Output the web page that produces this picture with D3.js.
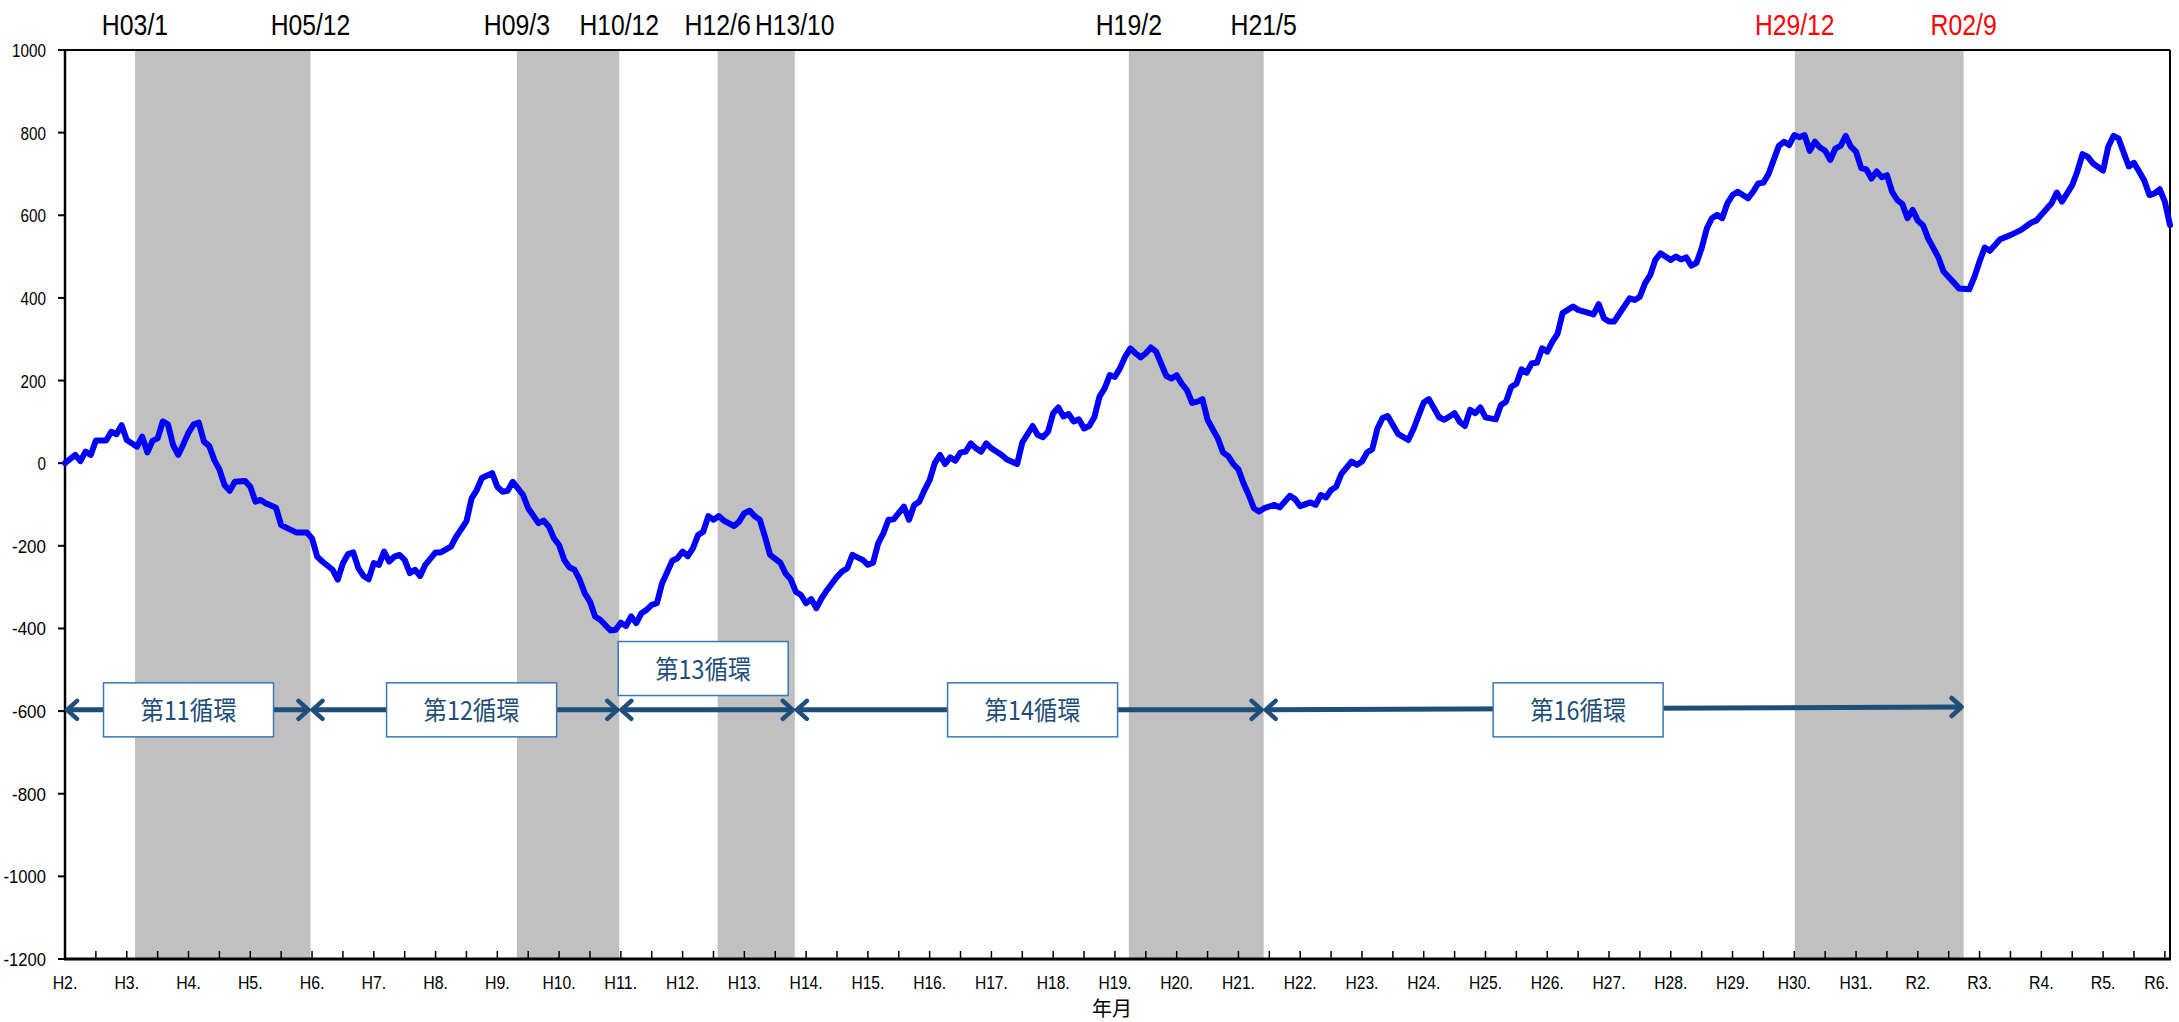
<!DOCTYPE html>
<html>
<head>
<meta charset="utf-8">
<script src="https://cdn.jsdelivr.net/npm/d3@7"></script>
<style>
  body { margin: 0; background: #fff; }
</style>
</head>
<body>
<div id="chart"></div>
<script>
// month index 0 = H2/1 (1990 Jan), one step = one month
const pointMonth = [
  0,2,3,4,5,6,8,9,10,11,12,14,15,16,17,18,19,20,21,22,23,24,25,26,27,28,29,30,31,32,33,35,36,37,38,39,41,42,44,45,47,48,49,50,52,53,54,55,56,57,58,59,
  60,61,62,63,64,65,66,67,68,69,70,72,73,75,76,78,79,80,81,83,84,85,86,87,88,89,90,92,93,94,95,96,97,98,99,100,101,102,103,104,106,107,
  108,109,110,111,112,113,114,115,116,118,119,120,121,122,123,124,125,126,127,128,130,131,132,133,134,135,136,137,139,140,141,142,143,144,145,146,147,148,
  150,151,152,153,155,156,157,158,159,160,161,163,164,165,166,167,168,169,170,171,172,173,174,175,176,177,178,179,180,182,183,185,186,188,189,190,191,192,
  193,194,195,196,197,198,199,200,201,202,203,204,205,206,207,208,209,210,211,212,213,214,215,216,217,218,219,220,221,222,223,224,225,226,227,228,229,230,
  231,232,233,235,236,238,239,240,242,243,244,245,246,247,248,250,251,252,253,254,255,256,257,259,261,262,264,265,267,268,270,271,272,273,274,275,276,278,
  279,280,281,282,283,284,285,286,287,288,289,290,291,292,293,294,296,297,298,299,300,301,303,304,305,306,307,308,309,310,312,313,314,315,316,317,318,
  319,320,321,322,323,324,325,327,328,329,330,331,332,333,334,335,336,337,338,339,340,341,342,343,344,345,346,347,348,349,350,351,352,353,354,355,356,357,
  358,359,360,361,362,364,365,367,368,370,371,372,373,374,376,378,380,382,383,384,386,387,388,390,391,392,393,394,396,397,398,399,400,401,402,403,404,405,
  406,407,408,409
];
const pointValue = [
  0,20,5,28,20,55,55,76,70,92,56,40,64,26,54,60,101,94,44,20,46,74,94,98,52,42,8,-15,-53,-67,-45,-43,-57,-93,-89,-97,-108,-150,-162,-168,-168,-182,-226,-238,-258,-282,-242,-220,-216,-254,-273,-281,
  -242,-246,-214,-238,-226,-222,-234,-266,-258,-273,-246,-216,-216,-202,-178,-141,-85,-65,-36,-24,-57,-69,-67,-45,-61,-77,-109,-145,-139,-153,-182,-198,-234,-252,-258,-282,-315,-335,-371,-379,-405,-403,
  -386,-394,-371,-387,-363,-355,-343,-339,-291,-236,-230,-214,-225,-206,-174,-166,-128,-137,-128,-139,-152,-141,-121,-115,-128,-137,-178,-222,-241,-267,-281,-311,-319,-339,-329,-351,-327,-308,
  -275,-262,-254,-222,-234,-246,-241,-194,-170,-137,-136,-105,-137,-101,-93,-65,-41,0,20,-2,14,6,26,28,48,36,28,48,36,20,9,-2,50,90,68,63,76,121,
  135,113,119,101,106,84,90,111,161,181,213,209,230,258,278,266,256,266,280,270,240,211,205,213,192,177,146,149,155,105,82,60,26,17,-2,-15,-49,-77,
  -109,-117,-109,-101,-107,-79,-87,-104,-95,-101,-77,-83,-65,-57,-26,4,-4,4,26,34,84,109,114,71,56,82,147,155,111,105,121,100,90,129,121,135,111,106,
  141,149,185,192,227,219,242,243,278,270,294,313,364,371,379,371,364,360,385,351,343,343,380,399,395,403,435,455,492,508,492,500,493,498,478,485,520,
  568,593,601,593,629,649,657,641,657,677,679,700,734,768,778,770,794,789,794,756,778,764,756,734,762,768,792,766,754,714,711,689,706,692,697,657,637,627,
  593,613,587,576,544,498,464,437,423,421,451,488,522,514,542,552,564,582,587,601,629,655,633,673,706,748,742,726,708,766,792,786,752,718,727,706,684,649,
  653,663,633,576
];

const yTicks = [1000, 800, 600, 400, 200, 0, -200, -400, -600, -800, -1000, -1200];
const yearLabels = ["H2.","H3.","H4.","H5.","H6.","H7.","H8.","H9.","H10.","H11.","H12.","H13.","H14.","H15.","H16.",
  "H17.","H18.","H19.","H20.","H21.","H22.","H23.","H24.","H25.","H26.","H27.","H28.","H29.","H30.","H31.",
  "R2.","R3.","R4.","R5.","R6."];

// contraction periods (grey bands), boundaries as month positions
const shadeFrom = [13.6, 87.8, 126.8, 206.7, 336.1];
const shadeTo = [47.7, 107.7, 141.8, 232.9, 368.9];
const peakLabel = ["H03/1", "H09/3", "H12/6", "H19/2", "H29/12"];
const troughLabel = ["H05/12", "H10/12", "H13/10", "H21/5", "R02/9"];
const labelColor = ["#000", "#000", "#000", "#000", "#ff0000"];

// business cycles (arrows)
const cycleName = ["第11循環", "第12循環", "第13循環", "第14循環", "第16循環"];
const cycleFrom = [0, 47.7, 107.7, 141.8, 232.9];
const cycleTo = [47.7, 107.7, 141.8, 232.9, 368.9];
const cycleY0 = [-597, -597, -597, -597, -597];
const cycleY1 = [-597, -597, -597, -597, -590];
const boxMonth = [24, 79, 124, 188, 294];
const boxValue = [-597, -597, -497, -597, -597];

const width = 2179, height = 1022;
const margin = { top: 50, right: 9, bottom: 63, left: 65 };

const x = d3.scaleLinear().domain([0, 409]).range([margin.left, width - margin.right]);
const y = d3.scaleLinear().domain([-1200, 1000]).range([height - margin.bottom, margin.top]);

// MS Gothic style: half-width latin, full-width kana/kanji
function emWidth(s) {
  let w = 0;
  for (const ch of s) w += ch.charCodeAt(0) > 0xff ? 1 : 0.5;
  return w;
}

const svg = d3.select("#chart").append("svg")
  .attr("width", width)
  .attr("height", height)
  .style("display", "block")
  .style("font-family", "'Liberation Sans', 'Noto Sans CJK JP', sans-serif");

svg.append("rect").attr("width", width).attr("height", height).attr("fill", "#fff");

// grey bands
svg.append("g").selectAll("rect")
  .data(shadeFrom)
  .join("rect")
  .attr("x", d => x(d))
  .attr("y", y(1000))
  .attr("width", (d, i) => x(shadeTo[i]) - x(d))
  .attr("height", y(-1200) - y(1000))
  .attr("fill", "#c0c0c0");

// frame
const x0 = x(0), x1 = x(409), yt = y(1000), yb = y(-1200);
svg.append("line").attr("x1", x0).attr("x2", x1).attr("y1", yt).attr("y2", yt)
  .attr("stroke", "#000").attr("stroke-width", 2);
svg.append("line").attr("x1", x1).attr("x2", x1).attr("y1", yt).attr("y2", yb)
  .attr("stroke", "#000").attr("stroke-width", 2);

// y axis
const yAxis = svg.append("g");
yAxis.append("line").attr("x1", x0).attr("x2", x0).attr("y1", yt).attr("y2", yb)
  .attr("stroke", "#000").attr("stroke-width", 2.5);
yAxis.selectAll("line.tick").data(yTicks).join("line")
  .attr("class", "tick")
  .attr("x1", x0 - 7).attr("x2", x0)
  .attr("y1", d => y(d)).attr("y2", d => y(d))
  .attr("stroke", "#000").attr("stroke-width", 2);
yAxis.selectAll("text").data(yTicks).join("text")
  .attr("x", x0 - 19)
  .attr("y", d => y(d) + 7)
  .attr("text-anchor", "end")
  .attr("font-size", 19)
  .attr("textLength", d => emWidth(String(d)) * 17)
  .attr("lengthAdjust", "spacingAndGlyphs")
  .text(d => d);

// x axis
const halfYears = d3.range(0, 409, 6);
const xAxis = svg.append("g");
xAxis.selectAll("line").data(halfYears).join("line")
  .attr("x1", d => x(d)).attr("x2", d => x(d))
  .attr("y1", yb).attr("y2", yb - 8)
  .attr("stroke", "#000").attr("stroke-width", 1.5);
xAxis.append("line").attr("x1", x0 - 1).attr("x2", x1 + 1).attr("y1", yb).attr("y2", yb)
  .attr("stroke", "#000").attr("stroke-width", 3);
xAxis.selectAll("text").data(yearLabels).join("text")
  .attr("x", (d, i) => Math.min(x(i * 12), width - 10 - emWidth(d) * 16.5 / 2))
  .attr("y", yb + 30)
  .attr("text-anchor", "middle")
  .attr("font-size", 19)
  .attr("textLength", d => emWidth(d) * 16.5)
  .attr("lengthAdjust", "spacingAndGlyphs")
  .text(d => d);

svg.append("text")
  .attr("x", 1112).attr("y", yb + 57)
  .attr("text-anchor", "middle")
  .attr("font-family", "'Noto Sans CJK JP', sans-serif")
  .attr("font-size", 20)
  .text("年月");

// series line
const series = pointMonth.map((m, i) => [m, pointValue[i]]);
svg.append("path")
  .datum(series)
  .attr("fill", "none")
  .attr("stroke", "#0000ff")
  .attr("stroke-width", 6)
  .attr("stroke-linejoin", "round")
  .attr("stroke-linecap", "round")
  .attr("d", d3.line().x(d => x(d[0])).y(d => y(d[1])));

// peak / trough labels on top
const topLabels = [];
shadeFrom.forEach((d, i) => {
  topLabels.push({ m: d, t: peakLabel[i], c: labelColor[i] });
  topLabels.push({ m: shadeTo[i], t: troughLabel[i], c: labelColor[i] });
});
svg.append("g").selectAll("text").data(topLabels).join("text")
  .attr("x", d => x(d.m))
  .attr("y", 35)
  .attr("text-anchor", "middle")
  .attr("font-size", 29)
  .attr("fill", d => d.c)
  .attr("textLength", d => emWidth(d.t) * 26.5)
  .attr("lengthAdjust", "spacingAndGlyphs")
  .text(d => d.t);

// cycle arrows
const arrowColor = "#1f4e79";
const defs = svg.append("defs");
defs.append("marker")
  .attr("id", "head")
  .attr("viewBox", "0 0 16 24")
  .attr("markerUnits", "userSpaceOnUse")
  .attr("markerWidth", 16)
  .attr("markerHeight", 24)
  .attr("refX", 13)
  .attr("refY", 12)
  .attr("orient", "auto-start-reverse")
  .append("path")
  .attr("d", "M3,3 L13,12 L3,21")
  .attr("fill", "none")
  .attr("stroke", arrowColor)
  .attr("stroke-width", 4.5)
  .attr("stroke-linecap", "round")
  .attr("stroke-linejoin", "round");

svg.append("g").selectAll("line").data(cycleName).join("line")
  .attr("x1", (d, i) => x(cycleFrom[i]) + 2)
  .attr("x2", (d, i) => x(cycleTo[i]) - 2)
  .attr("y1", (d, i) => y(cycleY0[i]))
  .attr("y2", (d, i) => y(cycleY1[i]))
  .attr("stroke", arrowColor)
  .attr("stroke-width", 5)
  .attr("marker-start", "url(#head)")
  .attr("marker-end", "url(#head)");

const boxW = 170, boxH = 54;
const boxes = svg.append("g").selectAll("g").data(cycleName).join("g")
  .attr("transform", (d, i) => `translate(${x(boxMonth[i])},${y(boxValue[i])})`);
boxes.append("rect")
  .attr("x", -boxW / 2).attr("y", -boxH / 2)
  .attr("width", boxW).attr("height", boxH)
  .attr("fill", "#fff")
  .attr("stroke", "#3a76b8")
  .attr("stroke-width", 1.5);
boxes.append("text")
  .attr("text-anchor", "middle")
  .attr("y", 10)
  .attr("font-family", "'Noto Sans CJK JP', sans-serif")
  .attr("font-size", 26)
  .attr("fill", "#1f4e79")
  .attr("textLength", d => emWidth(d) * 24)
  .attr("lengthAdjust", "spacingAndGlyphs")
  .text(d => d);
</script>
</body>
</html>
